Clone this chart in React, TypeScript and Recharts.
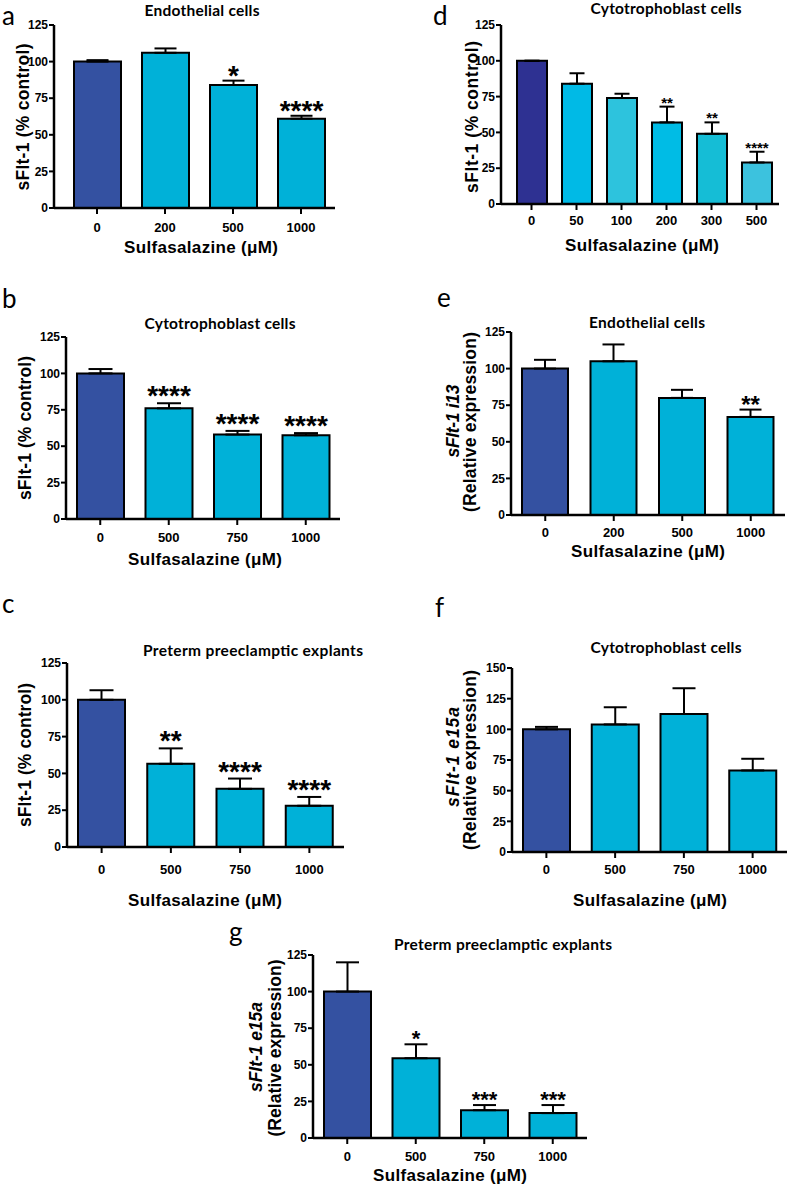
import { Bar, BarChart, Cell, ErrorBar, LabelList, XAxis, YAxis } from "recharts";

// a – endothelial cells, sFlt-1 protein
const dosesA = ["0", "200", "500", "1000"];
const meanA = [100, 106, 84, 61];
const semA = [1, 3, 3, 2];
const starsA = ["", "", "*", "****"];

// b – cytotrophoblast cells, sFlt-1 protein
const dosesB = ["0", "500", "750", "1000"];
const meanB = [100, 76, 58, 57.5];
const semB = [3, 3.5, 2.5, 1.5];
const starsB = ["", "****", "****", "****"];

// c – preterm preeclamptic explants, sFlt-1 protein
const dosesC = ["0", "500", "750", "1000"];
const meanC = [100, 56.5, 39.5, 28];
const semC = [6.5, 10.5, 7, 6];
const starsC = ["", "**", "****", "****"];

// d – cytotrophoblast cells, dose response
const dosesD = ["0", "50", "100", "200", "300", "500"];
const meanD = [100, 84, 74, 57, 49, 29];
const semD = [0, 7.3, 3, 11, 8, 7.5];
const starsD = ["", "", "", "**", "**", "****"];

// e – endothelial cells, sFlt-1 i13 mRNA
const dosesE = ["0", "200", "500", "1000"];
const meanE = [100, 105, 80, 67];
const semE = [6, 11.5, 5.5, 5];
const starsE = ["", "", "", "**"];

// f – cytotrophoblast cells, sFlt-1 e15a mRNA
const dosesF = ["0", "500", "750", "1000"];
const meanF = [100, 104, 112.5, 66.5];
const semF = [2, 14, 21, 9.5];
const starsF = ["", "", "", ""];

// g – preterm preeclamptic explants, sFlt-1 e15a mRNA
const dosesG = ["0", "500", "750", "1000"];
const meanG = [100, 54.5, 19, 17];
const semG = [20, 9.5, 3.5, 5.5];
const starsG = ["", "*", "***", "***"];

const ticks125 = [0, 25, 50, 75, 100, 125];
const ticks150 = [0, 25, 50, 75, 100, 125, 150];

const navy = "#3451a1";
const cyan = "#00b1d8";
const coloursStd = [navy, cyan, cyan, cyan];
const coloursD = ["#2e3192", "#00bae6", "#2dc3dd", "#00bce5", "#15bdd6", "#3cc2de"];

const arial = "'Liberation Sans', Arial, sans-serif";
const calibri = "Lato, 'Open Sans', sans-serif";

type Row = { dose: string; v: number; err: number; range: number[]; stars: string };

function buildRows(doses: string[], mean: number[], sem: number[], stars: string[]): Row[] {
  return doses.map((dose, i) => ({
    dose,
    v: mean[i],
    err: sem[i],
    range: [0, sem[i]],
    stars: stars[i],
  }));
}

type PanelProps = {
  rows: Row[];
  colours: string[];
  yTicks: number[];
  left: number;
  top: number;
  right: number;
  bottom: number;
  padLeft?: number;
  barSize: number;
  capWidth: number;
  tickGap: number;
  starSize: number;
  starLift: number;
};

function Panel(p: PanelProps) {
  const yW = 44;
  const xH = 34;
  const chartLeft = p.left - yW;
  const chartTop = p.top - 12;
  const width = p.right + 4 - chartLeft;
  const height = p.bottom + xH - chartTop;

  const renderStars = (props: any) => {
    const row = p.rows[props.index];
    if (!row || !row.stars) return null;
    const vb = props.viewBox || {};
    const x = Number(props.x ?? vb.x);
    const y = Number(props.y ?? vb.y);
    const w = Number(props.width ?? vb.width);
    const h = Number(props.height ?? vb.height);
    const top = y - (row.err * h) / row.v;
    return (
      <text
        x={x + w / 2}
        y={top + p.starLift}
        textAnchor="middle"
        fontSize={p.starSize}
        fontWeight={700}
        fontFamily={arial}
        fill="#000"
      >
        {row.stars}
      </text>
    );
  };

  return (
    <div style={{ position: "absolute", left: chartLeft, top: chartTop }}>
      <BarChart
        width={width}
        height={height}
        data={p.rows}
        margin={{ top: 12, right: 4, left: 0, bottom: 0 }}
      >
        <XAxis
          dataKey="dose"
          height={xH}
          interval={0}
          padding={{ left: p.padLeft ?? 0, right: 0 }}
          axisLine={{ stroke: "#000", strokeWidth: 2.5 }}
          tickLine={{ stroke: "#000", strokeWidth: 2 }}
          tickSize={6}
          tickMargin={p.tickGap - 6}
          tick={{ fill: "#000", fontSize: 13, fontWeight: 700, fontFamily: arial }}
        />
        <YAxis
          width={yW}
          domain={[0, p.yTicks[p.yTicks.length - 1]]}
          ticks={p.yTicks}
          interval={0}
          axisLine={{ stroke: "#000", strokeWidth: 2.5 }}
          tickLine={{ stroke: "#000", strokeWidth: 2 }}
          tickSize={5}
          tickMargin={1}
          tick={{ fill: "#000", fontSize: 12, fontWeight: 700, fontFamily: arial }}
        />
        <Bar
          dataKey="v"
          barSize={p.barSize}
          stroke="#000"
          strokeWidth={2}
          isAnimationActive={false}
        >
          {p.rows.map((r, i) => (
            <Cell key={r.dose} fill={p.colours[i]} />
          ))}
          <ErrorBar
            dataKey="range"
            direction="y"
            width={p.capWidth}
            stroke="#000"
            strokeWidth={2}
            isAnimationActive={false}
          />
          <LabelList dataKey="stars" content={renderStars} />
        </Bar>
      </BarChart>
    </div>
  );
}

function YLabel({ x, y, len, children }: { x: number; y: number; len: number; children: string }) {
  return (
    <text
      transform={`translate(${x},${y}) rotate(-90)`}
      textAnchor="middle"
      dominantBaseline="central"
      fontSize={17.5}
      fontWeight={700}
      fontFamily={arial}
      textLength={len}
    >
      {children}
    </text>
  );
}

function GeneLabel({ x, y, len, children }: { x: number; y: number; len: number; children: string }) {
  return (
    <text
      transform={`translate(${x},${y}) rotate(-90)`}
      textAnchor="middle"
      dominantBaseline="central"
      fontSize={17.5}
      fontWeight={700}
      fontStyle="italic"
      fontFamily={arial}
      textLength={len}
    >
      {children}
    </text>
  );
}

function Title({ x, y, len, children }: { x: number; y: number; len: number; children: string }) {
  return (
    <text x={x} y={y} textAnchor="middle" fontSize={15.5} fontWeight={700} fontFamily={calibri} textLength={len}>
      {children}
    </text>
  );
}

function XLabel({ x, y }: { x: number; y: number }) {
  return (
    <text x={x} y={y} textAnchor="middle" fontSize={17} fontWeight={700} fontFamily={arial} textLength={154}>
      Sulfasalazine (μM)
    </text>
  );
}

function Letter({ x, y, children }: { x: number; y: number; children: string }) {
  return (
    <text x={x} y={y} fontSize={26} fontFamily={calibri}>
      {children}
    </text>
  );
}

export default function App() {
  return (
    <div
      style={{
        position: "absolute",
        left: 0,
        top: 0,
        width: 787,
        height: 1187,
        background: "#fff",
        overflow: "hidden",
      }}
    >
      <Panel rows={buildRows(dosesA, meanA, semA, starsA)} colours={coloursStd} yTicks={ticks125}
        left={54} top={25} right={335} bottom={208} padLeft={9} barSize={47} capWidth={11}
        tickGap={15} starSize={28} starLift={4} />
      <Panel rows={buildRows(dosesB, meanB, semB, starsB)} colours={coloursStd} yTicks={ticks125}
        left={66} top={337} right={340} bottom={519} barSize={47} capWidth={12}
        tickGap={14} starSize={28} starLift={2} />
      <Panel rows={buildRows(dosesC, meanC, semC, starsC)} colours={coloursStd} yTicks={ticks125}
        left={67} top={663} right={344} bottom={847} barSize={47} capWidth={12}
        tickGap={18} starSize={28} starLift={2} />
      <Panel rows={buildRows(dosesD, meanD, semD, starsD)} colours={coloursD} yTicks={ticks125}
        left={501} top={25} right={779} bottom={204} padLeft={8} barSize={30} capWidth={7.5}
        tickGap={12} starSize={15} starLift={1} />
      <Panel rows={buildRows(dosesE, meanE, semE, starsE)} colours={coloursStd} yTicks={ticks125}
        left={511} top={332} right={785} bottom={515} barSize={46} capWidth={11}
        tickGap={13} starSize={24} starLift={3} />
      <Panel rows={buildRows(dosesF, meanF, semF, starsF)} colours={coloursStd} yTicks={ticks150}
        left={512} top={668} right={787} bottom={852} barSize={47} capWidth={11.5}
        tickGap={13} starSize={24} starLift={3} />
      <Panel rows={buildRows(dosesG, meanG, semG, starsG)} colours={coloursStd} yTicks={ticks125}
        left={313} top={955} right={587} bottom={1138} barSize={47} capWidth={11.5}
        tickGap={14} starSize={22} starLift={2} />

      <svg
        width={787}
        height={1187}
        style={{ position: "absolute", left: 0, top: 0, pointerEvents: "none" }}
      >
        <Letter x={2} y={25}>a</Letter>
        <Letter x={2} y={308}>b</Letter>
        <Letter x={2} y={613}>c</Letter>
        <Letter x={433} y={25}>d</Letter>
        <Letter x={437} y={307}>e</Letter>
        <Letter x={435} y={617}>f</Letter>
        <Letter x={229} y={941}>g</Letter>

        <Title x={202} y={16} len={115}>Endothelial cells</Title>
        <Title x={220} y={329} len={151}>Cytotrophoblast cells</Title>
        <Title x={253} y={656} len={220}>Preterm preeclamptic explants</Title>
        <Title x={666} y={14} len={151}>Cytotrophoblast cells</Title>
        <Title x={647} y={328} len={116}>Endothelial cells</Title>
        <Title x={666} y={653} len={151}>Cytotrophoblast cells</Title>
        <Title x={503} y={950} len={218}>Preterm preeclamptic explants</Title>

        <XLabel x={201} y={253} />
        <XLabel x={205} y={565} />
        <XLabel x={205} y={906} />
        <XLabel x={642} y={251} />
        <XLabel x={648} y={557} />
        <XLabel x={650} y={906} />
        <XLabel x={450} y={1181} />

        <YLabel x={23} y={117} len={147}>sFlt-1 (% control)</YLabel>
        <YLabel x={25} y={428} len={144}>sFlt-1 (% control)</YLabel>
        <YLabel x={25} y={755} len={144}>sFlt-1 (% control)</YLabel>
        <YLabel x={472} y={117} len={152}>sFlt-1 (% control)</YLabel>

        <GeneLabel x={453} y={421} len={73}>sFlt-1 i13</GeneLabel>
        <YLabel x={470} y={422} len={180}>(Relative expression)</YLabel>
        <GeneLabel x={453} y={757} len={100}>sFlt-1 e15a</GeneLabel>
        <YLabel x={470} y={760} len={180}>(Relative expression)</YLabel>
        <GeneLabel x={256} y={1047} len={90}>sFlt-1 e15a</GeneLabel>
        <YLabel x={275} y={1048} len={177}>(Relative expression)</YLabel>
      </svg>
    </div>
  );
}
